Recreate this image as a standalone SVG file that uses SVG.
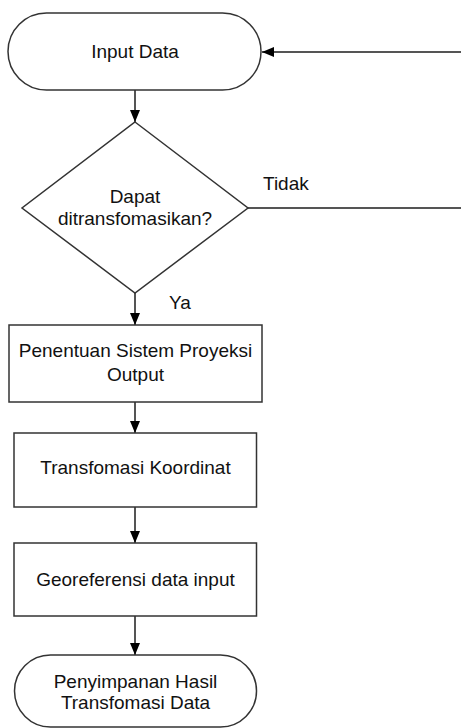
<svg xmlns="http://www.w3.org/2000/svg" width="461" height="728" viewBox="0 0 461 728">
  <defs>
    <marker id="arrow" viewBox="0 0 12 12" refX="12" refY="6" markerWidth="12" markerHeight="12" markerUnits="userSpaceOnUse" orient="auto">
      <path d="M0,1 L12,6 L0,11 Z" fill="#000"/>
    </marker>
    <style>
      .shape { fill: #fff; stroke: #333; stroke-width: 1.5; }
      .conn { fill: none; stroke: #555; stroke-width: 2; }
      .arr { marker-end: url(#arrow); }
      text { font-family: "Liberation Sans", Arial, sans-serif; font-size: 19px; fill: #111; }
      .c { text-anchor: middle; }
    </style>
  </defs>

  <!-- connectors -->
  <g id="connectors">
    <line class="conn arr" x1="461" y1="52" x2="262" y2="52"/>
    <line class="conn arr" x1="135" y1="90" x2="135" y2="122"/>
    <line class="conn" x1="248" y1="208" x2="461" y2="208"/>
    <line class="conn arr" x1="135" y1="293" x2="135" y2="325"/>
    <line class="conn arr" x1="135" y1="402" x2="135" y2="433"/>
    <line class="conn arr" x1="135" y1="507" x2="135" y2="543"/>
    <line class="conn arr" x1="135" y1="616" x2="135" y2="655"/>
    <text x="263" y="190">Tidak</text>
    <text x="169" y="309">Ya</text>
  </g>

  <!-- start terminal -->
  <g id="input-data">
    <rect class="shape" x="8" y="13" width="253" height="77" rx="38.5"/>
    <text class="c" x="135" y="58">Input Data</text>
  </g>

  <!-- decision -->
  <g id="dapat-ditransformasikan">
    <polygon class="shape" points="135,122 248,208 135,293 22,208"/>
    <text class="c" x="135" y="203">Dapat</text>
    <text class="c" x="135" y="225">ditransfomasikan?</text>
  </g>

  <!-- process steps -->
  <g id="penentuan-sistem-proyeksi">
    <rect class="shape" x="9" y="325" width="253" height="77"/>
    <text class="c" x="135.5" y="357">Penentuan Sistem Proyeksi</text>
    <text class="c" x="135.5" y="381">Output</text>
  </g>

  <g id="transformasi-koordinat">
    <rect class="shape" x="14" y="433" width="242.5" height="74"/>
    <text class="c" x="135.5" y="474">Transfomasi Koordinat</text>
  </g>

  <g id="georeferensi">
    <rect class="shape" x="14" y="543" width="242.5" height="73"/>
    <text class="c" x="135.5" y="586">Georeferensi data input</text>
  </g>

  <!-- end terminal -->
  <g id="penyimpanan-hasil">
    <rect class="shape" x="14.5" y="655" width="242" height="72" rx="36"/>
    <text class="c" x="135.5" y="688">Penyimpanan Hasil</text>
    <text class="c" x="135.5" y="709">Transfomasi Data</text>
  </g>
</svg>
